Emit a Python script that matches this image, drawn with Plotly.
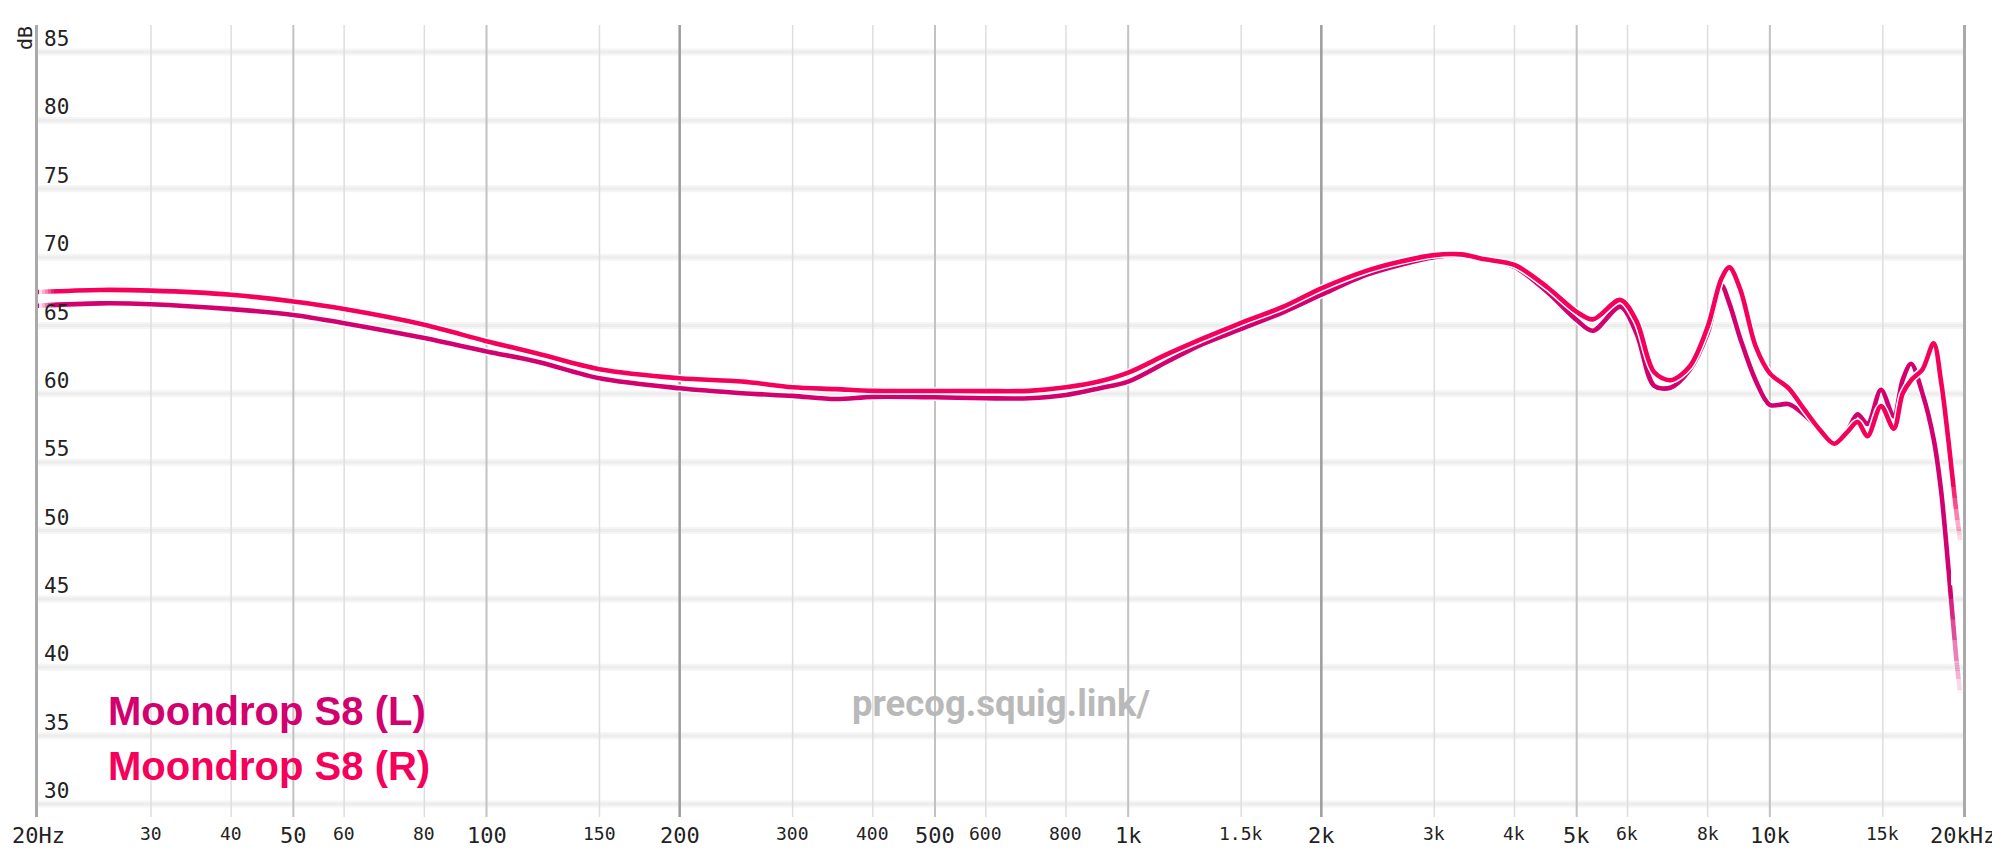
import numpy as np
import plotly.graph_objects as go

# ---------------- data ----------------
freq = [20, 25, 30, 40, 50, 60, 80, 100, 120, 150,
        200, 250, 300, 350, 400, 500, 600, 700, 800, 900,
        1000, 1150, 1300, 1500, 1750, 2000, 2350, 2650, 3000, 3300,
        3600, 4000, 4500, 5000, 5300, 5850, 6200, 6600, 7000, 7500,
        8000, 8400, 8650, 9000, 9500, 10000, 10700, 11300, 12000, 12600,
        13200, 13700, 14200, 14900, 15600, 16100, 16600, 17300, 18000, 18500,
        19000, 19500, 19800]

spl_left = [66.45, 66.62, 66.56, 66.2, 65.77, 65.17, 64.08, 63.1, 62.35, 61.14,
            60.41, 60.05, 59.85, 59.62, 59.78, 59.75, 59.68, 59.68, 59.92, 60.4,
            60.9, 62.35, 63.6, 64.75, 66.0, 67.25, 68.7, 69.43, 70.0, 70.15,
            69.8, 69.29, 67.45, 65.4, 64.62, 66.38, 64.4, 60.6, 60.45, 61.75,
            64.43, 67.95, 66.6, 64.0, 61.0, 59.19, 59.25, 58.5, 57.3, 56.35,
            57.3, 58.5, 57.8, 60.3, 58.35, 61.0, 62.2, 60.0, 56.7, 52.8,
            47.0, 40.9, 38.1]

spl_right = [67.45, 67.6, 67.55, 67.25, 66.75, 66.2, 65.05, 63.85, 62.95, 61.8,
             61.14, 60.9, 60.48, 60.35, 60.22, 60.21, 60.2, 60.22, 60.48, 60.9,
             61.55, 62.9, 64.0, 65.2, 66.4, 67.72, 69.0, 69.67, 70.15, 70.2,
             69.84, 69.43, 67.8, 66.0, 65.45, 66.87, 65.3, 61.6, 61.0, 62.0,
             64.9, 68.4, 69.25, 67.6, 63.5, 61.5, 60.4, 58.9, 57.3, 56.35,
             57.2, 57.95, 56.9, 59.1, 57.45, 60.0, 61.0, 61.8, 63.7, 60.8,
             56.4, 51.6, 49.3]

series_names = ["Moondrop S8 (L)", "Moondrop S8 (R)"]
series_colors = ["#d3006f", "#f5005a"]

y_ticks = [30, 35, 40, 45, 50, 55, 60, 65, 70, 75, 80, 85]

x_tick_vals = [20, 30, 40, 50, 60, 80, 100, 150, 200, 300, 400, 500, 600, 800,
               1000, 1500, 2000, 3000, 4000, 5000, 6000, 8000, 10000, 15000, 20000]
x_tick_text = ["20Hz", "30", "40", "50", "60", "80", "100", "150", "200", "300", "400",
               "500", "600", "800", "1k", "1.5k", "2k", "3k", "4k", "5k", "6k", "8k",
               "10k", "15k", "20kHz"]
x_major = [20, 50, 100, 200, 500, 1000, 2000, 5000, 10000, 20000]
x_dark = [200, 2000]
x_medium = [50, 100, 500, 1000, 5000, 10000]

# ---------------- figure ----------------
# page body has an 8px margin, so the figure is sized/offset to compensate
OFF = 8
W, H = 1992, 857
ML, MR, MT, MB = 30, 37, 17, 48
PW = W - ML - MR
PH = H - MT - MB
Y_RANGE = [29.05, 86.98]
PX_PER_DB = PH / (Y_RANGE[1] - Y_RANGE[0])

GRID_OUTER = ("#f5f5f5", 7)
GRID_INNER = ("#ededed", 3)

fig = go.Figure()

# curves, each with a thin white halo
for name, vals, col in zip(series_names, [spl_left, spl_right], series_colors):
    fig.add_trace(go.Scatter(x=freq, y=vals, mode="lines",
                             line=dict(color="white", width=7.5, shape="spline", smoothing=0.9),
                             hoverinfo="skip", showlegend=False))
    fig.add_trace(go.Scatter(x=freq, y=vals, mode="lines", name=name,
                             line=dict(color=col, width=4.6, shape="spline", smoothing=0.9),
                             showlegend=False))


def px2paper(px):
    # px in page pixels
    return (px - OFF - ML) / PW


shapes = []
# horizontal grid (soft, thick)
for v in y_ticks:
    for c, w in (GRID_OUTER, GRID_INNER):
        shapes.append(dict(type="line", xref="paper", yref="y", x0=0, x1=1, y0=v, y1=v,
                           line=dict(color=c, width=w), layer="below"))
# vertical grid
for f in x_tick_vals[1:-1]:
    if f in x_dark:
        c, w = "#9c9c9c", 2.5
    elif f in x_medium:
        c, w = "#c2c2c2", 2
    else:
        c, w = "#dedede", 1.5
    shapes.append(dict(type="line", xref="x", yref="paper", x0=f, x1=f, y0=0, y1=1,
                       line=dict(color=c, width=w), layer="below"))


def fade_rect(xa, xb, ya, yb, op):
    """Blend a region towards its background (white, or gridline grey inside grid bands)."""
    lo, hi = min(ya, yb), max(ya, yb)
    outer = GRID_OUTER[1] / 2 / PX_PER_DB
    inner = GRID_INNER[1] / 2 / PX_PER_DB
    # breakpoints
    pts = {lo, hi}
    for g in y_ticks:
        for d in (-outer, -inner, inner, outer):
            if lo < g + d < hi:
                pts.add(g + d)
    pts = sorted(pts)
    for a, b in zip(pts[:-1], pts[1:]):
        m = (a + b) / 2
        col = "white"
        for g in y_ticks:
            if abs(m - g) < inner:
                col = GRID_INNER[0]
                break
            if abs(m - g) < outer:
                col = GRID_OUTER[0]
        shapes.append(dict(type="rect", xref="paper", yref="y", x0=px2paper(xa), x1=px2paper(xb),
                           y0=a, y1=b, fillcolor=col, opacity=op, line=dict(width=0), layer="above"))


# left-end fades
for a, b, op in [(39, 42, 0.9), (42, 45, 0.7), (45, 48, 0.5), (48, 51, 0.3), (51, 54, 0.12)]:
    for y0, y1 in [(67.0, 67.95), (66.0, 66.9)]:
        fade_rect(a, b, y0, y1, op)

RIGHT_END = 1963
# right channel fade
for y1, y0, op in [(53.2, 52.4, 0.15), (52.4, 51.6, 0.3), (51.6, 50.8, 0.5), (50.8, 50.0, 0.68),
                   (50.0, 49.2, 0.85), (49.2, 46.0, 0.97)]:
    fade_rect(1951, RIGHT_END, y0, y1, op)
# left channel fade
for y1, y0, op in [(45.0, 43.5, 0.15), (43.5, 42.0, 0.3), (42.0, 40.5, 0.5), (40.5, 39.2, 0.7),
                   (39.2, 38.4, 0.85), (38.4, 35.0, 0.96)]:
    fade_rect(1944, RIGHT_END, y0, y1, op)

annotations = []
tick_font = "DejaVu Sans Mono"
for v in y_ticks:
    annotations.append(dict(x=0, xref="paper", y=v, yref="y", text=str(v), showarrow=False,
                            xanchor="left", yanchor="middle", xshift=4, yshift=13,
                            font=dict(family=tick_font, size=21, color="#222222")))
for f, t in zip(x_tick_vals, x_tick_text):
    big = f in x_major
    annotations.append(dict(x=np.log10(f), xref="x", y=0, yref="paper", text=t, showarrow=False,
                            xanchor="center", yanchor="middle", yshift=-18 if big else -16,
                            font=dict(family=tick_font, size=22 if big else 18, color="#222222")))
annotations.append(dict(x=0, xref="paper", y=1, yref="paper", text="dB", showarrow=False,
                        textangle=-90, xanchor="center", yanchor="middle", xshift=-13, yshift=-13,
                        font=dict(family=tick_font, size=20, color="#222222")))
# series labels
for i, (name, col) in enumerate(zip(series_names, series_colors)):
    annotations.append(dict(x=0, xref="paper", y=0, yref="paper", text="<b>%s</b>" % name,
                            showarrow=False, xanchor="left", yanchor="middle",
                            xshift=68, yshift=106 - 55 * i,
                            font=dict(family="Liberation Sans", size=40, color=col)))
# watermark
annotations.append(dict(x=0.5, xref="paper", y=0, yref="paper", text="<b>precog.squig.link/</b>",
                        showarrow=False, xanchor="center", yanchor="middle", yshift=114,
                        font=dict(family="Roboto", size=36.5, color="#b9b9b9")))

fig.update_layout(
    width=W, height=H,
    margin=dict(l=ML, r=MR, t=MT, b=MB, pad=0),
    paper_bgcolor="white", plot_bgcolor="white",
    showlegend=False,
    shapes=shapes, annotations=annotations,
    xaxis=dict(type="log", range=[np.log10(20), np.log10(20000)], showgrid=False,
               showticklabels=False, zeroline=False, ticks="", showline=False, fixedrange=True),
    yaxis=dict(range=Y_RANGE, showgrid=False, showticklabels=False, zeroline=False, ticks="",
               showline=True, mirror=True, linecolor="#aaaaaa", linewidth=3, fixedrange=True),
)

fig.write_html("out.html")
